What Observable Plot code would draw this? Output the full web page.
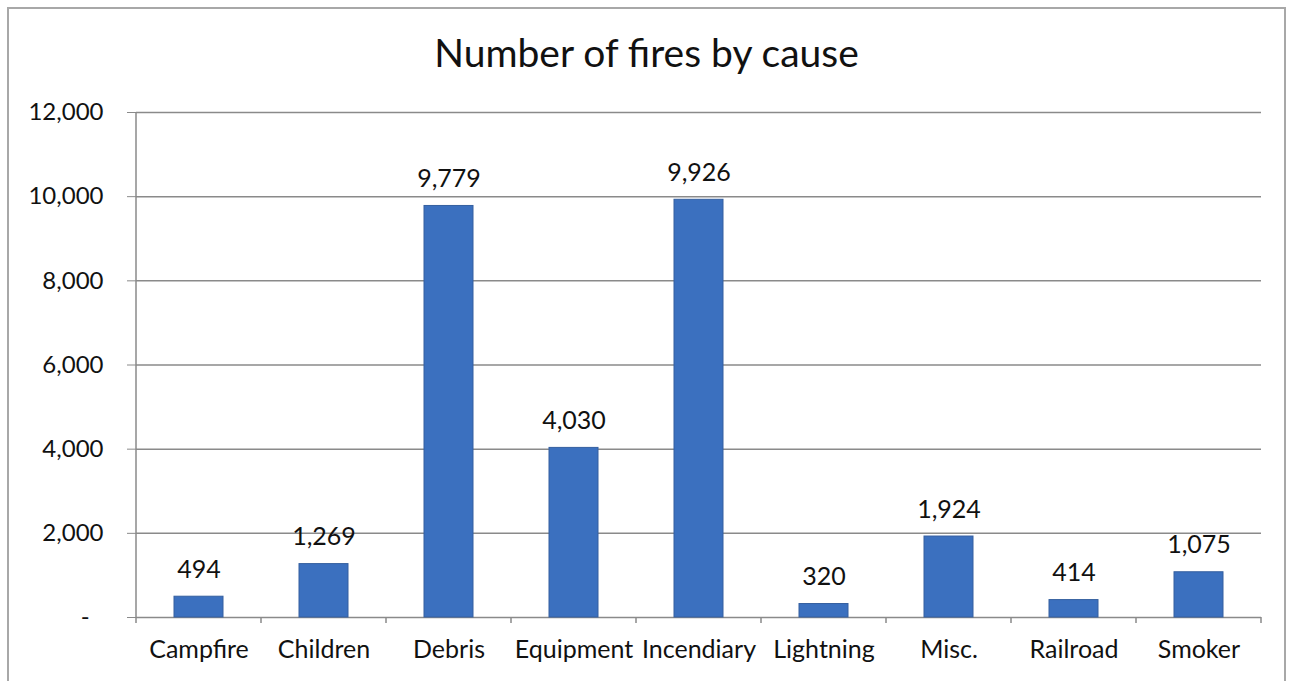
<!DOCTYPE html>
<html><head><meta charset="utf-8">
<script src="https://cdn.jsdelivr.net/npm/d3@7"></script>
<script src="https://cdn.jsdelivr.net/npm/@observablehq/plot@0.6"></script>
<style>
body{margin:0;background:#fff;width:1293px;height:681px;overflow:hidden;position:relative;font-family:Lato,"Open Sans",sans-serif;}
#frame{position:absolute;left:7px;top:7px;width:1279px;height:680px;border:2px solid #a8a8a8;box-sizing:border-box;}
#title{position:absolute;left:0;top:31px;width:1293px;text-align:center;font-size:39px;line-height:42px;color:#111;}
#chart{position:absolute;left:0;top:0;}
</style></head>
<body>
<div id="frame"></div>
<div id="title">Number of fires by cause</div>
<div id="chart"></div>
<script>
const causes = ["Campfire","Children","Debris","Equipment","Incendiary","Lightning","Misc.","Railroad","Smoker"];
const fires = [494, 1269, 9779, 4030, 9926, 320, 1924, 414, 1075];
const yTicks = [0, 2000, 4000, 6000, 8000, 10000, 12000];

const data = causes.map((c, i) => ({cause: c, fires: fires[i]}));
const fmt = d3.format(",");

function bandTicks(index, scales, values, dimensions) {
  const x = scales.x, y = scales.y;
  const dom = x.domain();
  const bw = x.bandwidth ? x.bandwidth() : 0;
  const step = x.step ? x.step() : (dimensions.width - dimensions.marginLeft - dimensions.marginRight) / dom.length;
  const half = (step - bw) / 2;
  const y0 = y(0);
  const g = d3.create("svg:g").attr("stroke", "#8a8a8a").attr("stroke-width", 1.5);
  const xs = dom.map(c => x(c) - half);
  xs.push(x(dom[dom.length - 1]) + bw + half);
  for (const xv of xs) {
    g.append("line").attr("x1", xv).attr("x2", xv).attr("y1", y0).attr("y2", y0 + 6);
  }
  const xl = dimensions.marginLeft;
  g.append("line").attr("x1", xl).attr("x2", xl).attr("y1", y(yTicks[yTicks.length - 1])).attr("y2", y0);
  return g.node();
}

const chart = Plot.plot({
  width: 1293,
  height: 681,
  marginLeft: 136,
  marginRight: 32,
  marginTop: 112,
  marginBottom: 64,
  style: {fontFamily: "Lato, 'Open Sans', sans-serif", fontSize: "24px", color: "#111", background: "transparent", overflow: "visible"},
  x: {domain: causes, paddingInner: 0.61, paddingOuter: 0.305, axis: null},
  y: {domain: [0, 12000], axis: null},
  marks: [
    Plot.ruleY(yTicks, {stroke: "#8a8a8a", strokeWidth: 1.5}),
    Plot.barY(data, {x: "cause", y: "fires", fill: "#3b70bf", stroke: "#345f9f", strokeWidth: 1}),
    Plot.text(data, {x: "cause", y: "fires", text: d => fmt(d.fires), dy: -27, lineAnchor: "middle", fontSize: 25, fill: "#111"}),
    Plot.axisY({ticks: yTicks, tickFormat: d => d === 0 ? "-\u2007" : fmt(d), tickSize: 9, tickPadding: 24, stroke: "#8a8a8a", fill: "#111", label: null, fontSize: 24}),
    Plot.axisX({tickSize: 0, tickPadding: 23, label: null, fill: "#111", fontSize: 25}),
    bandTicks
  ]
});
document.getElementById("chart").appendChild(chart);
</script>
</body></html>
